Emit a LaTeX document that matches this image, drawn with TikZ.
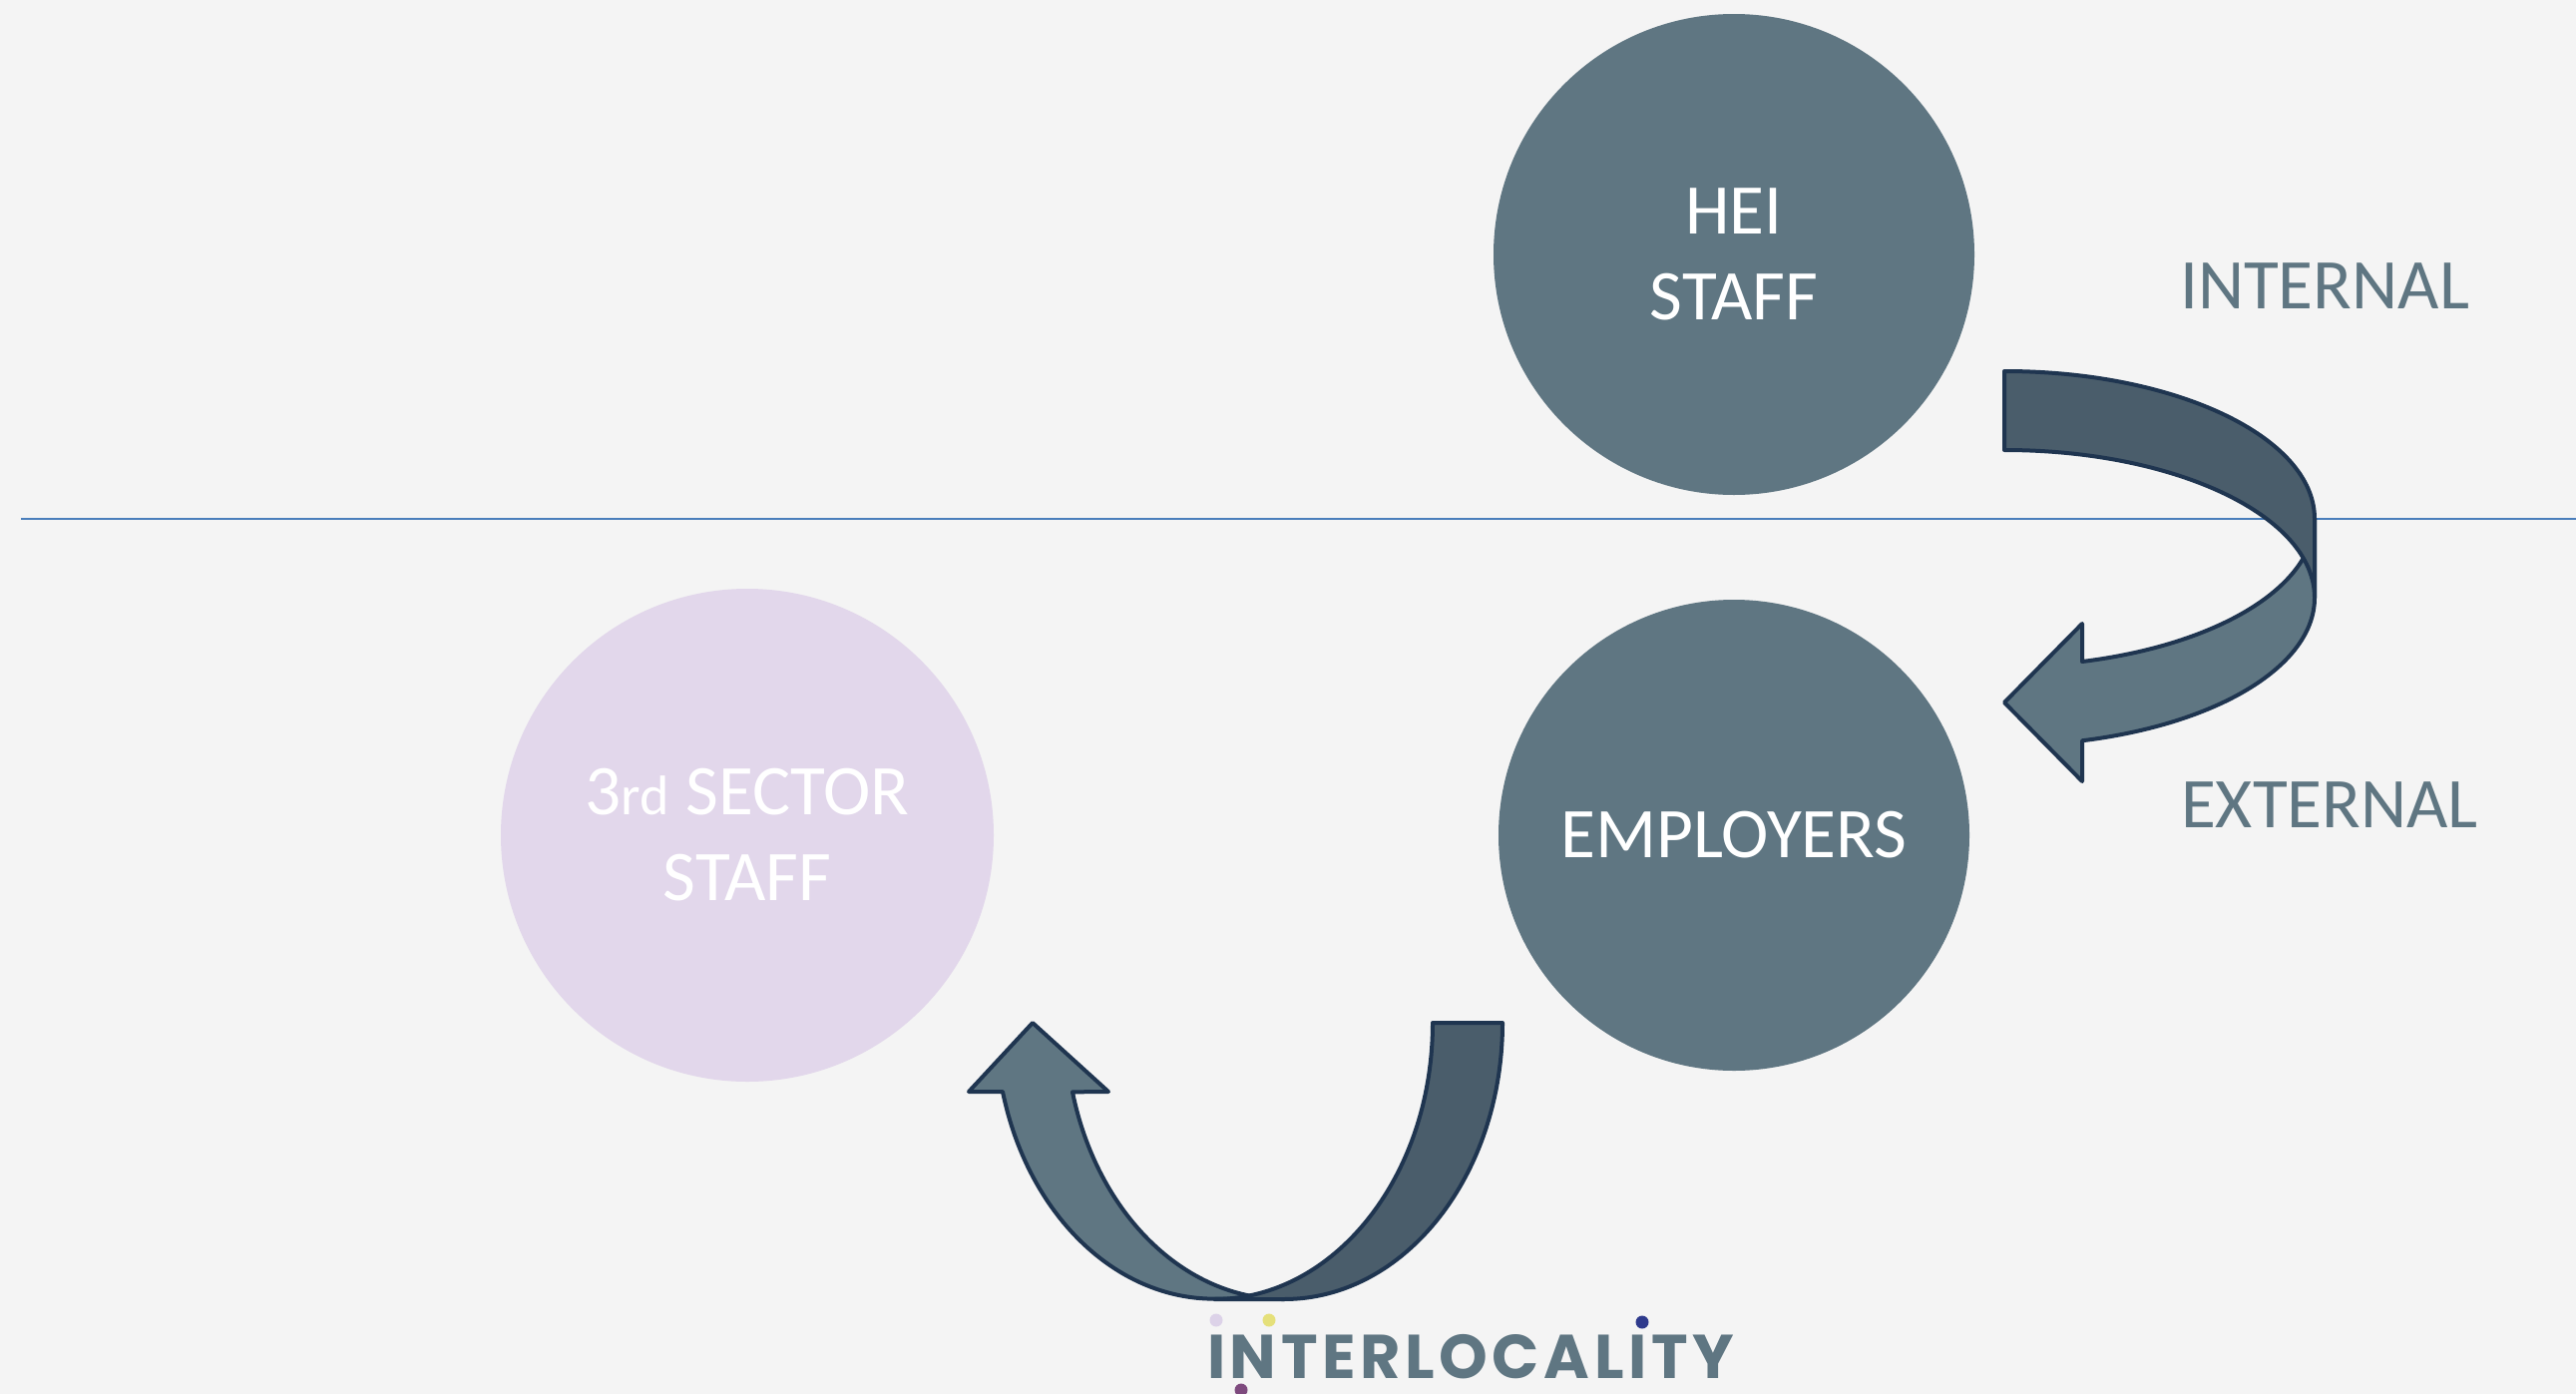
\documentclass[tikz,border=0pt]{standalone}
\usepackage{fontspec}
\setmainfont{Carlito}
\newfontfamily\logofont{Poppins}[LetterSpace=7.4]
\usetikzlibrary{positioning}
\definecolor{paper}{HTML}{F4F4F4}
\definecolor{slate}{HTML}{5F7682}
\definecolor{slatedark}{HTML}{4A5D6B}
\definecolor{lilac}{HTML}{E2D7EB}
\definecolor{navyline}{HTML}{1F3550}
\definecolor{rulecol}{HTML}{4A7EBB}
\definecolor{dotlilac}{HTML}{DCD2E8}
\definecolor{dotyellow}{HTML}{E5E07A}
\definecolor{dotnavy}{HTML}{2E3A8C}
\definecolor{dotplum}{HTML}{7E4A7E}
\begin{document}
\begin{tikzpicture}[x=0.5pt,y=-0.5pt,node distance=291pt,
	  staff node/.style={circle,fill=slate,text=white,inner sep=0pt,align=center,
	    font=\fontsize{35.7}{43}\selectfont},
	  side label/.style={anchor=base,text=slate,font=\fontsize{35.7}{43}\selectfont},
	  band/.style={draw=navyline,line width=2pt,line join=round}]

	  \useasboundingbox (0,0) rectangle (2582,1397);
	  \fill[paper] (0,0) rectangle (2582,1397);
	  \draw[rulecol,line width=1pt] (21,520) -- (2582,520);

	  \node[staff node,minimum size=241pt] (hei) at (1738,255) {HEI\\STAFF};
	  \node[staff node,minimum size=236pt] (emp) [below of=hei] {EMPLOYERS};
	  \node[staff node,fill=lilac,minimum size=247pt] (third) [left of=emp,node distance=494.5pt]
	    {3{\fontsize{28}{28}\selectfont rd} SECTOR\\STAFF};

	  \node[side label] (int) at (2330,309) {INTERNAL};
	  \node[side label] (ext) at (2335,829) {EXTERNAL};

	  % hei -> employers
	  \filldraw[band,fill=slate] (2087,663) arc[start angle=75.47,end angle=0,x radius=311,y radius=148]
	    -- (2320,599) arc[start angle=0,end angle=75.47,x radius=311,y radius=148]
	    -- (2087,783) -- (2009,704) -- (2087,625) -- cycle;
	  \filldraw[band,fill=slatedark] (2009,372) arc[start angle=-90,end angle=0,x radius=311,y radius=148]
	    -- (2320,599) arc[start angle=0,end angle=-90,x radius=311,y radius=148] -- cycle;

	  % employers -> 3rd sector
	  \filldraw[band,fill=slate] (1005,1094) arc[start angle=165.5,end angle=90,x radius=219,y radius=277]
	    -- (1287,1302) arc[start angle=90,end angle=165.5,x radius=219,y radius=277]
	    -- (1111,1094) -- (1035,1025) -- (971,1094) -- cycle;
	  \filldraw[band,fill=slatedark] (1506,1025) arc[start angle=0,end angle=90,x radius=219,y radius=277]
	    -- (1217,1302) arc[start angle=90,end angle=0,x radius=219,y radius=277] -- cycle;

	  \node[text=slate,font=\logofont\bfseries\fontsize{31}{31}\selectfont] (logo) at (1474,1360) {INTERLOCALITY};
	  \fill[dotlilac] (1219,1323) circle[radius=6.5];
	  \fill[dotyellow] (1272,1323) circle[radius=6.5];
	  \fill[dotnavy] (1646,1325) circle[radius=6.5];
	  \fill[dotplum] (1244,1393) circle[radius=6.5];

\end{tikzpicture}
\end{document}
